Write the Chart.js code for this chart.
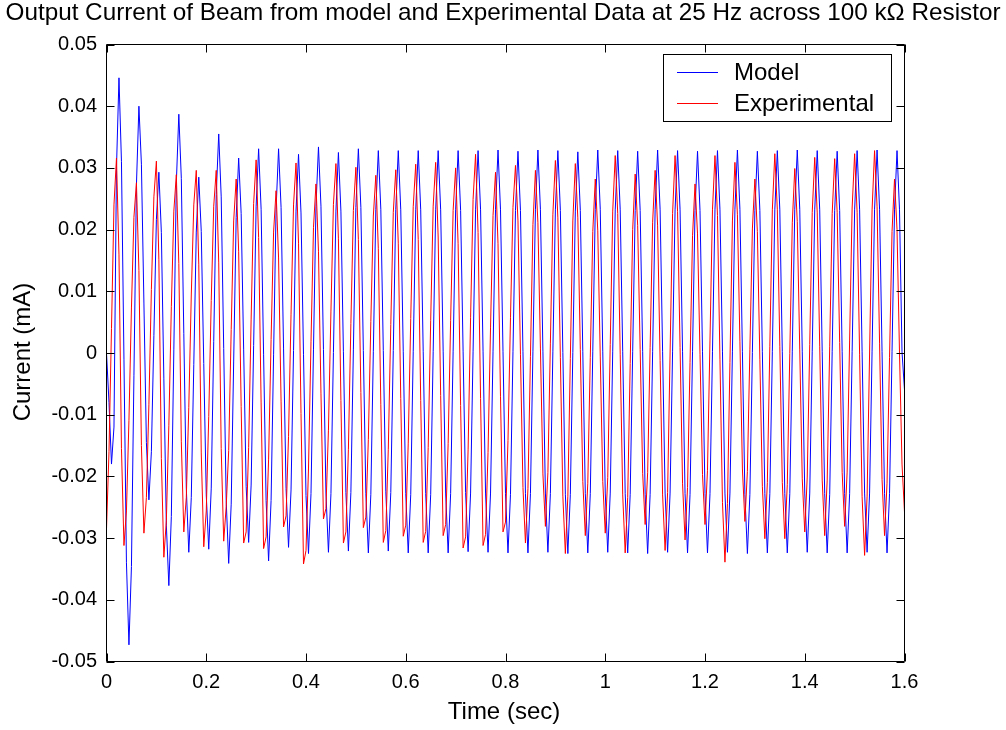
<!DOCTYPE html>
<html>
<head>
<meta charset="utf-8">
<script src="https://cdn.jsdelivr.net/npm/chart.js@4.4.0/dist/chart.umd.min.js"></script>
<style>
html,body{margin:0;padding:0;background:#fff;}
#wrap{width:1006px;height:730px;position:relative;}
</style>
</head>
<body>
<div id="wrap"><canvas id="c" width="1006" height="730"></canvas></div>
<script>
const titleText = "Output Current of Beam from model and Experimental Data at 25 Hz across 100 k\u03A9 Resistor";
const xAxisLabel = "Time (sec)";
const yAxisLabel = "Current (mA)";
const seriesNames = ["Model", "Experimental"];
const seriesColors = ["#0000ff", "#ff0000"];
const sampleStep = 0.005; // seconds between samples
const xTickValues = [0, 0.2, 0.4, 0.6, 0.8, 1, 1.2, 1.4, 1.6];
const yTickValues = [-0.05, -0.04, -0.03, -0.02, -0.01, 0, 0.01, 0.02, 0.03, 0.04, 0.05];

// Model current (mA), one row per 40 ms cycle, 5 ms samples
const modelCurrent = [
  0.0000, -0.0080, -0.0180, -0.0120, 0.0300, 0.0446, 0.0310, -0.0010,
  -0.0340, -0.0473, -0.0346, -0.0037, 0.0272, 0.0400, 0.0306, 0.0081,
  -0.0145, -0.0238, -0.0160, 0.0028, 0.0216, 0.0293, 0.0195, -0.0042,
  -0.0279, -0.0377, -0.0265, 0.0005, 0.0275, 0.0387, 0.0283, 0.0032,
  -0.0219, -0.0323, -0.0234, -0.0019, 0.0196, 0.0285, 0.0197, -0.0017,
  -0.0230, -0.0318, -0.0219, 0.0019, 0.0257, 0.0355, 0.0253, 0.0007,
  -0.0239, -0.0341, -0.0245, -0.0013, 0.0220, 0.0316, 0.0226, 0.0005,
  -0.0216, -0.0307, -0.0214, 0.0012, 0.0238, 0.0331, 0.0233, -0.0003,
  -0.0239, -0.0337, -0.0239, -0.0003, 0.0233, 0.0331, 0.0236, 0.0008,
  -0.0220, -0.0315, -0.0222, 0.0004, 0.0230, 0.0322, 0.0227, -0.0002,
  -0.0231, -0.0325, -0.0228, 0.0005, 0.0238, 0.0334, 0.0238, 0.0006,
  -0.0227, -0.0323, -0.0228, 0.0001, 0.0230, 0.0325, 0.0230, 0.0002,
  -0.0226, -0.0321, -0.0226, 0.0005, 0.0236, 0.0331, 0.0236, 0.0004,
  -0.0228, -0.0324, -0.0229, 0.0002, 0.0233, 0.0328, 0.0233, 0.0004,
  -0.0225, -0.0321, -0.0226, 0.0004, 0.0233, 0.0328, 0.0232, 0.0002,
  -0.0228, -0.0324, -0.0229, 0.0002, 0.0232, 0.0328, 0.0232, 0.0002,
  -0.0228, -0.0324, -0.0229, 0.0002, 0.0232, 0.0328, 0.0232, 0.0003,
  -0.0227, -0.0324, -0.0228, 0.0003, 0.0232, 0.0328, 0.0231, 0.0003,
  -0.0226, -0.0322, -0.0227, 0.0003, 0.0232, 0.0328, 0.0232, 0.0003,
  -0.0227, -0.0323, -0.0227, 0.0003, 0.0233, 0.0329, 0.0232, 0.0002,
  -0.0228, -0.0324, -0.0229, 0.0002, 0.0231, 0.0327, 0.0231, 0.0002,
  -0.0228, -0.0324, -0.0228, 0.0003, 0.0233, 0.0329, 0.0233, 0.0003,
  -0.0227, -0.0323, -0.0228, 0.0003, 0.0232, 0.0328, 0.0231, 0.0001,
  -0.0229, -0.0325, -0.0229, 0.0001, 0.0230, 0.0326, 0.0231, 0.0002,
  -0.0228, -0.0324, -0.0228, 0.0003, 0.0233, 0.0329, 0.0233, 0.0003,
  -0.0227, -0.0323, -0.0227, 0.0003, 0.0232, 0.0328, 0.0232, 0.0002,
  -0.0228, -0.0324, -0.0229, 0.0002, 0.0231, 0.0327, 0.0231, 0.0002,
  -0.0229, -0.0325, -0.0229, 0.0002, 0.0233, 0.0329, 0.0232, 0.0002,
  -0.0227, -0.0323, -0.0227, 0.0003, 0.0232, 0.0328, 0.0232, 0.0002,
  -0.0228, -0.0324, -0.0229, 0.0002, 0.0231, 0.0327, 0.0231, 0.0002,
  -0.0228, -0.0324, -0.0228, 0.0002, 0.0232, 0.0328, 0.0232, 0.0003,
  -0.0227, -0.0323, -0.0227, 0.0003, 0.0233, 0.0329, 0.0233, 0.0002,
  -0.0229, -0.0325, -0.0229, 0.0001, 0.0231, 0.0327, 0.0231, 0.0002,
  -0.0228, -0.0324, -0.0228, 0.0002, 0.0232, 0.0328, 0.0232, 0.0002,
  -0.0228, -0.0324, -0.0228, 0.0003, 0.0233, 0.0329, 0.0233, 0.0003,
  -0.0227, -0.0323, -0.0227, 0.0003, 0.0232, 0.0328, 0.0232, 0.0002,
  -0.0228, -0.0324, -0.0229, 0.0002, 0.0231, 0.0327, 0.0231, 0.0002,
  -0.0228, -0.0324, -0.0228, 0.0002, 0.0232, 0.0328, 0.0232, 0.0003,
  -0.0227, -0.0323, -0.0227, 0.0003, 0.0233, 0.0329, 0.0233, 0.0002,
  -0.0228, -0.0324, -0.0228, 0.0002, 0.0232, 0.0328, 0.0232, 0.0002,
  -0.0060
];

// Experimental current (mA), same sampling
const experimentalCurrent = [
  -0.0285, -0.0160, 0.0040, 0.0240, 0.0316, 0.0159, -0.0155, -0.0312,
  -0.0256, -0.0109, 0.0073, 0.0220, 0.0276, 0.0134, -0.0150, -0.0292,
  -0.0234, -0.0084, 0.0103, 0.0253, 0.0311, 0.0151, -0.0171, -0.0331,
  -0.0272, -0.0117, 0.0075, 0.0230, 0.0289, 0.0145, -0.0144, -0.0290,
  -0.0234, -0.0088, 0.0094, 0.0240, 0.0296, 0.0144, -0.0162, -0.0314,
  -0.0256, -0.0103, 0.0085, 0.0238, 0.0296, 0.0146, -0.0155, -0.0305,
  -0.0249, -0.0158, 0.0038, 0.0214, 0.0282, 0.0164, -0.0087, -0.0308,
  -0.0290, -0.0153, 0.0055, 0.0242, 0.0313, 0.0187, -0.0081, -0.0317,
  -0.0298, -0.0172, 0.0022, 0.0196, 0.0263, 0.0154, -0.0078, -0.0282,
  -0.0264, -0.0135, 0.0063, 0.0240, 0.0308, 0.0178, -0.0098, -0.0342,
  -0.0320, -0.0188, 0.0018, 0.0203, 0.0274, 0.0165, -0.0065, -0.0269,
  -0.0252, -0.0125, 0.0068, 0.0241, 0.0307, 0.0185, -0.0077, -0.0308,
  -0.0290, -0.0156, 0.0048, 0.0231, 0.0301, 0.0184, -0.0064, -0.0283,
  -0.0266, -0.0140, 0.0051, 0.0222, 0.0288, 0.0169, -0.0084, -0.0307,
  -0.0288, -0.0156, 0.0046, 0.0228, 0.0297, 0.0178, -0.0074, -0.0297,
  -0.0279, -0.0146, 0.0056, 0.0237, 0.0306, 0.0184, -0.0077, -0.0307,
  -0.0289, -0.0153, 0.0053, 0.0238, 0.0309, 0.0188, -0.0069, -0.0296,
  -0.0278, -0.0147, 0.0053, 0.0231, 0.0300, 0.0177, -0.0085, -0.0316,
  -0.0298, -0.0157, 0.0057, 0.0249, 0.0322, 0.0195, -0.0074, -0.0312,
  -0.0294, -0.0161, 0.0042, 0.0223, 0.0293, 0.0177, -0.0071, -0.0290,
  -0.0274, -0.0142, 0.0057, 0.0236, 0.0304, 0.0214, -0.0002, -0.0218,
  -0.0308, -0.0220, -0.0006, 0.0208, 0.0296, 0.0211, 0.0008, -0.0196,
  -0.0281, -0.0194, 0.0016, 0.0225, 0.0312, 0.0219, -0.0007, -0.0232,
  -0.0325, -0.0232, -0.0009, 0.0214, 0.0307, 0.0219, 0.0006, -0.0208,
  -0.0296, -0.0211, -0.0007, 0.0197, 0.0282, 0.0198, -0.0005, -0.0208,
  -0.0292, -0.0202, 0.0014, 0.0230, 0.0320, 0.0226, -0.0002, -0.0230,
  -0.0324, -0.0234, -0.0017, 0.0200, 0.0290, 0.0207, 0.0006, -0.0195,
  -0.0278, -0.0194, 0.0009, 0.0212, 0.0296, 0.0206, -0.0012, -0.0230,
  -0.0320, -0.0226, 0.0000, 0.0226, 0.0320, 0.0229, 0.0009, -0.0212,
  -0.0303, -0.0218, -0.0015, 0.0190, 0.0274, 0.0193, -0.0002, -0.0197,
  -0.0278, -0.0190, 0.0021, 0.0232, 0.0320, 0.0223, -0.0010, -0.0242,
  -0.0339, -0.0244, -0.0015, 0.0214, 0.0309, 0.0224, 0.0018, -0.0188,
  -0.0273, -0.0192, 0.0005, 0.0201, 0.0282, 0.0197, -0.0010, -0.0216,
  -0.0301, -0.0210, 0.0011, 0.0232, 0.0323, 0.0232, 0.0011, -0.0210,
  -0.0301, -0.0213, -0.0001, 0.0211, 0.0299, 0.0213, 0.0005, -0.0204,
  -0.0290, -0.0201, 0.0014, 0.0228, 0.0317, 0.0227, 0.0011, -0.0206,
  -0.0296, -0.0206, 0.0010, 0.0226, 0.0315, 0.0228, 0.0017, -0.0194,
  -0.0281, -0.0193, 0.0021, 0.0235, 0.0323, 0.0228, -0.0003, -0.0233,
  -0.0328, -0.0232, 0.0000, 0.0232, 0.0328, 0.0237, 0.0016, -0.0205,
  -0.0296, -0.0211, -0.0007, 0.0197, 0.0282, 0.0200, 0.0000, -0.0180,
  -0.0258
];

const FONT_FAMILY = '"Liberation Sans", Arial, Helvetica, sans-serif';
const TICK_FONT_SIZE = 20;
const LABEL_FONT_SIZE = 24;

function fmtTick(v) {
  const r = Math.round(v * 100) / 100;
  return r === 0 ? '0' : String(r);
}
function toPoints(values) {
  return values.map((v, i) => ({ x: Math.round(i * sampleStep * 1000) / 1000, y: v }));
}

const matlabFrame = {
  id: 'matlabFrame',
  afterDatasetsDraw(chart) {
    const ctx = chart.ctx;
    const xs = chart.scales.x, ys = chart.scales.y;
    const L = 106.5, T = 44.5, R = 904.5, B = 661.5;
    const tick = 8;
    ctx.save();
    ctx.strokeStyle = '#000';
    ctx.lineWidth = 1;
    ctx.beginPath();
    ctx.rect(L, T, R - L, B - T);
    ctx.stroke();
    ctx.beginPath();
    xTickValues.forEach(v => {
      const px = Math.round(xs.getPixelForValue(v)) + 0.5;
      ctx.moveTo(px, B); ctx.lineTo(px, B - tick);
      ctx.moveTo(px, T); ctx.lineTo(px, T + tick);
    });
    yTickValues.forEach(v => {
      const py = Math.round(ys.getPixelForValue(v)) + 0.5;
      ctx.moveTo(L, py); ctx.lineTo(L + tick, py);
      ctx.moveTo(R, py); ctx.lineTo(R - tick, py);
    });
    ctx.stroke();

    // legend box inside the axes
    const lx = 663.5, ly = 54.5, lw = 228, lh = 67;
    ctx.fillStyle = '#fff';
    ctx.fillRect(lx, ly, lw, lh);
    ctx.strokeStyle = '#000';
    ctx.strokeRect(lx, ly, lw, lh);
    ctx.font = LABEL_FONT_SIZE + 'px ' + FONT_FAMILY;
    ctx.textBaseline = 'middle';
    ctx.textAlign = 'left';
    seriesNames.forEach((name, i) => {
      const yy = 72.5 + i * 31;
      ctx.strokeStyle = seriesColors[i];
      ctx.beginPath();
      ctx.moveTo(677, yy); ctx.lineTo(718, yy);
      ctx.stroke();
      ctx.fillStyle = '#000';
      ctx.fillText(name, 734, yy + 1);
    });

    // title (slightly widened, as in the original figure) and axis titles
    ctx.fillStyle = '#000';
    ctx.textAlign = 'center';
    ctx.textBaseline = 'middle';
    ctx.save();
    const tw = ctx.measureText(titleText).width;
    const sx = Math.max(0.9, Math.min(1.3, 995 / tw));
    ctx.translate(503, 13);
    ctx.scale(sx, 1);
    ctx.fillText(titleText, 0, 0);
    ctx.restore();
    ctx.fillText(xAxisLabel, 504, 712);
    ctx.translate(23, 352);
    ctx.rotate(-Math.PI / 2);
    ctx.fillText(yAxisLabel, 0, 0);
    ctx.restore();
  }
};

const tickFont = { family: FONT_FAMILY, size: TICK_FONT_SIZE };

new Chart(document.getElementById('c').getContext('2d'), {
  type: 'line',
  data: {
    datasets: [
      { label: seriesNames[0], data: toPoints(modelCurrent), borderColor: seriesColors[0],
        borderWidth: 1, pointRadius: 0, tension: 0, fill: false, order: 1 },
      { label: seriesNames[1], data: toPoints(experimentalCurrent), borderColor: seriesColors[1],
        borderWidth: 1, pointRadius: 0, tension: 0, fill: false, order: 0 }
    ]
  },
  options: {
    responsive: false,
    animation: false,
    devicePixelRatio: 1,
    layout: { padding: { top: 44.5, right: 101.5, bottom: 0, left: 0 } },
    plugins: { legend: { display: false }, title: { display: false }, tooltip: { enabled: false } },
    scales: {
      x: {
        type: 'linear', min: 0, max: 1.6,
        grid: { display: false, drawTicks: false },
        border: { display: false },
        afterBuildTicks: s => { s.ticks = xTickValues.map(v => ({ value: v })); },
        afterFit: s => { s.height = 68.5; },
        ticks: { color: '#000', font: tickFont, padding: 9, maxRotation: 0, autoSkip: false, callback: v => fmtTick(v) }
      },
      y: {
        type: 'linear', min: -0.05, max: 0.05,
        grid: { display: false, drawTicks: false },
        border: { display: false },
        afterBuildTicks: s => { s.ticks = yTickValues.map(v => ({ value: v })); },
        afterFit: s => { s.width = 106.5; },
        ticks: { color: '#000', font: tickFont, padding: 9.5, autoSkip: false, callback: v => fmtTick(v) }
      }
    }
  },
  plugins: [matlabFrame]
});
</script>
</body>
</html>
